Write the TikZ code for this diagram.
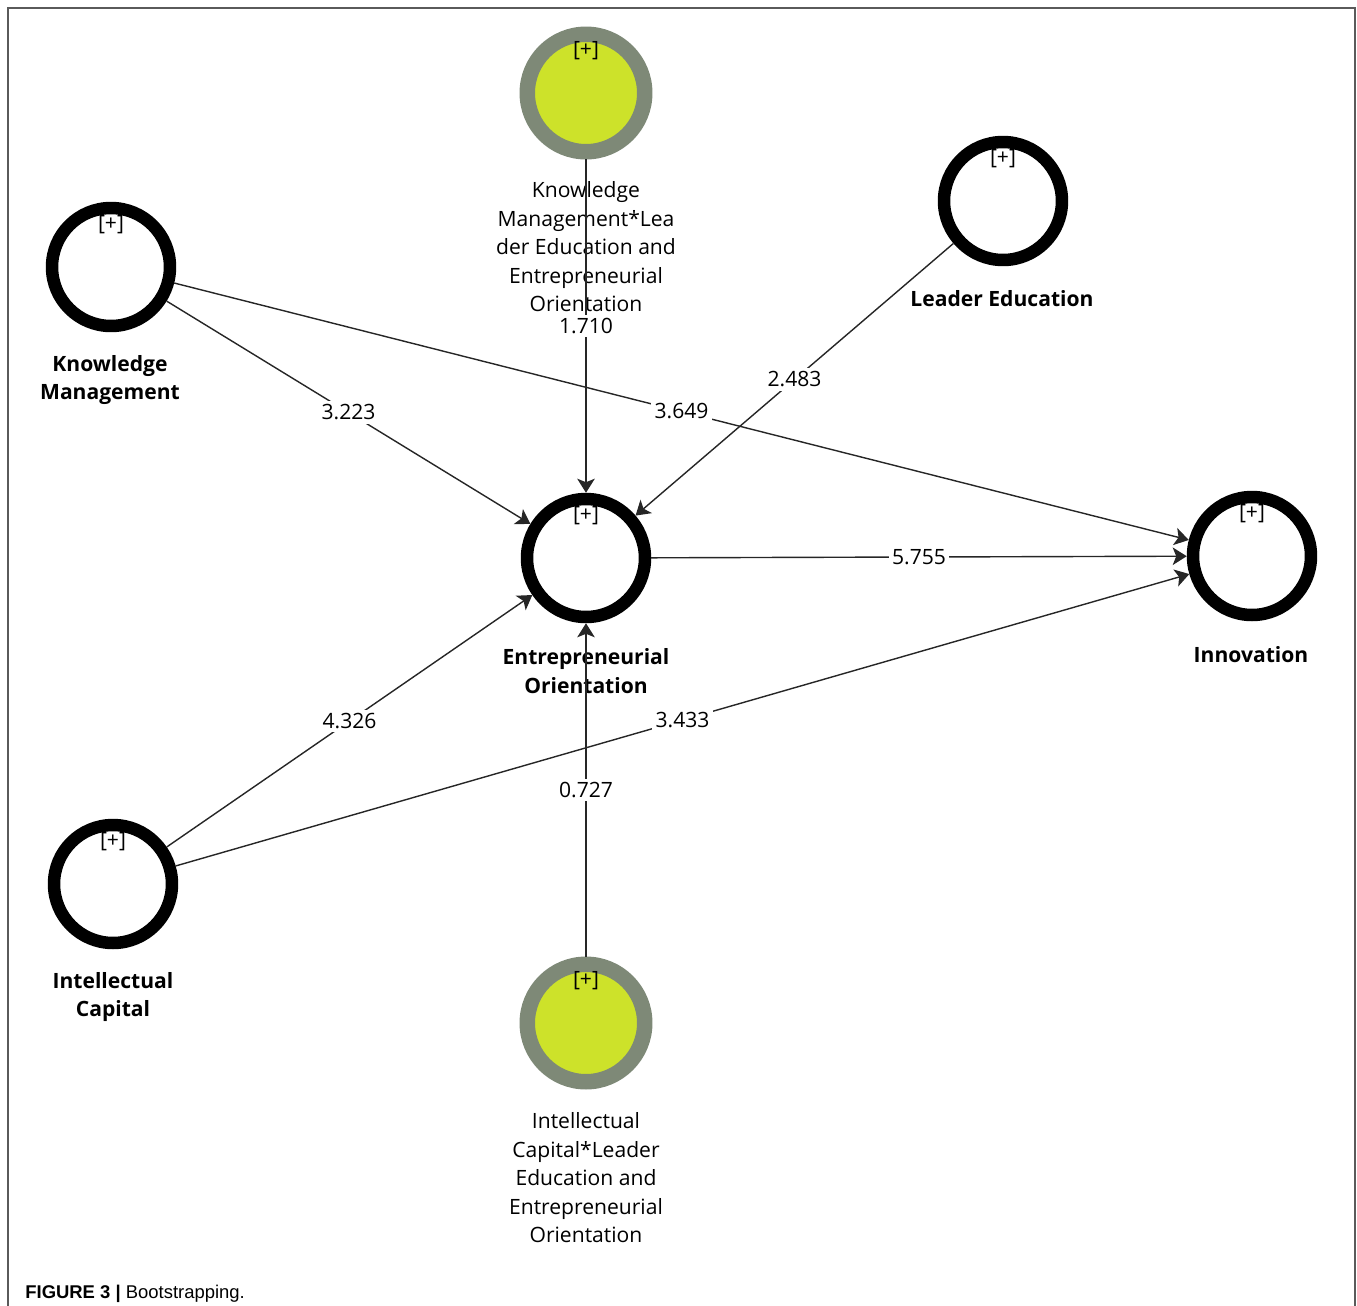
\documentclass[tikz,border=0pt]{standalone}
\usepackage{fontspec}
\setmainfont{Open Sans}
\newfontfamily\capfont{Liberation Sans}
\usetikzlibrary{arrows.meta,positioning}

\definecolor{ringgray}{RGB}{126,137,119}
\definecolor{limefill}{RGB}{205,226,42}
\definecolor{framegray}{RGB}{90,90,90}

\begin{document}
\begin{tikzpicture}[x=0.02cm, y=-0.02cm, >={Stealth[length=8pt,width=10pt,inset=2pt]},
	latent/.style={circle, draw=black, line width=0.25cm, minimum size=2.36cm, inner sep=0pt},
	moder/.style={circle, draw=ringgray, fill=limefill, line width=0.31cm, minimum size=2.35cm, inner sep=0pt},
	plusmark/.style={font=\fontsize{12}{14}\selectfont, inner sep=0pt},
	lvname/.style={font=\bfseries\fontsize{12}{16.2}\selectfont, align=center, inner sep=0pt},
	modname/.style={font=\fontsize{12}{16.2}\selectfont, align=center, inner sep=0pt},
	link/.style={->, line width=0.8pt, draw=black!85},
	coef/.style={fill=white, inner sep=2pt, font=\fontsize{12}{14}\selectfont}]
			
			\useasboundingbox (0,0) rectangle (1357,1306);
			\draw[framegray, line width=1.1pt] (8,1306) -- (8,8) -- (1355,8) -- (1355,1306);
			
			% constructs
			\node[latent] (km) at (111,267) {};
			\node[moder] (kmle) at (586,93) {};
			\node[latent] (le) at (1003,201) {};
			\node[latent] (eo) at (586,558) {};
			\node[latent] (inn) at (1252,556) {};
			\node[latent] (ic) at (113,884) {};
			\node[moder] (icle) at (586,1023) {};
			
			\foreach \n in {km,kmle,le,eo,inn,ic,icle}
			\node[plusmark] (\n-p) at ([yshift=0.84cm]\n.center) {[+]};
			
			% construct names
			\node[lvname] (km-t) at (110,380) {Knowledge\\Management};
			\node[modname] (kmle-t) at (586,247)
			{Knowledge\\Management*Lea\\der Education and\\Entrepreneurial\\Orientation};
			\node[lvname] (le-t) at (1002,299) {Leader Education};
			\node[lvname] (eo-t) at (586,671) {Entrepreneurial\\Orientation};
			\node[lvname] (inn-t) at (1251,655) {Innovation};
			\node[lvname] (ic-t) at (113,997) {Intellectual\\Capital};
			\node[modname] (icle-t) at (586,1178)
			{Intellectual\\Capital*Leader\\Education and\\Entrepreneurial\\Orientation};
			
			% paths with t values
			\draw[link] (kmle) -- (eo) node[coef, midway] {1.710};
			\draw[link] (le) -- (eo) node[coef, midway] {2.483};
			\draw[link] (km) -- (eo) node[coef, midway] {3.223};
			\draw[link] (km) -- (inn) node[coef, midway] {3.649};
			\draw[link] (eo) -- (inn) node[coef, midway] {5.755};
			\draw[link] (ic) -- (eo) node[coef, midway] {4.326};
			\draw[link] (ic) -- (inn) node[coef, midway] {3.433};
			\draw[link] (icle) -- (eo) node[coef, midway] {0.727};
			
			\node[anchor=base west, inner sep=0pt, font=\capfont\fontsize{10.5}{13}\selectfont] (cap)
			at (25,1298) {\textbf{FIGURE 3 |} Bootstrapping.};
			
\end{tikzpicture}
\end{document}
